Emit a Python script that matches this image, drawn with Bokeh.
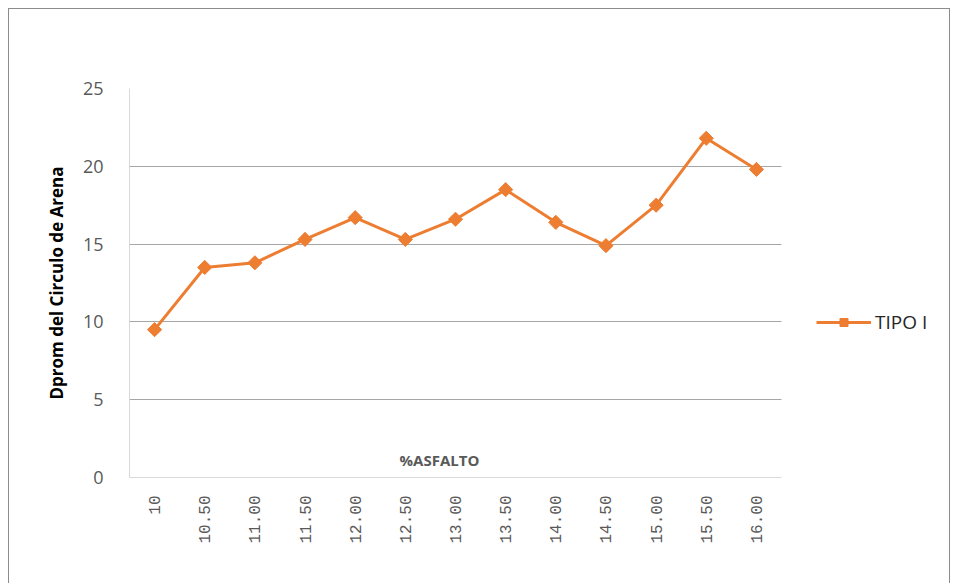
import math
from bokeh.plotting import figure
from bokeh.models import Legend, LegendItem, Label, Range1d, FixedTicker, BoxAnnotation
from bokeh.embed import file_html
from bokeh.resources import INLINE

categories = ["10", "10.50", "11.00", "11.50", "12.00", "12.50", "13.00",
              "13.50", "14.00", "14.50", "15.00", "15.50", "16.00"]
tipo_i = [9.5, 13.5, 13.8, 15.3, 16.7, 15.3, 16.6, 18.5, 16.4, 14.9, 17.5, 21.8, 19.8]
y_ticks = [0, 5, 10, 15, 20, 25]

ORANGE = "#ED7D31"
n = len(categories)
xs = list(range(n))
slot = 652 / n                      # pixel width of one category slot
x_end = -0.5 + (652 + 170) / slot   # frame extends under the legend area

p = figure(width=942, height=575, x_range=Range1d(-0.5, x_end),
           y_range=Range1d(0, 25), output_backend="svg", toolbar_location=None,
           min_border_left=120, min_border_right=0, min_border_top=79,
           min_border_bottom=107)
p.styles = {"border": "1px solid #8c8c8c", "border-bottom": "none",
            "margin-left": "8px", "margin-top": "8px"}
p.outline_line_color = None
p.background_fill_color = "white"

r = p.line(xs, tipo_i, line_color=ORANGE, line_width=3)
m = p.scatter(xs, tipo_i, marker="square", size=10, angle=math.pi / 4,
              fill_color=ORANGE, line_color=ORANGE)

p.yaxis.ticker = FixedTicker(ticks=y_ticks)
p.yaxis.axis_line_color = "#d9d9d9"
p.yaxis.major_tick_line_color = None
p.yaxis.minor_tick_line_color = None
p.yaxis.major_label_text_color = "#595959"
p.yaxis.major_label_text_font = "Open Sans"
p.yaxis.major_label_text_font_size = "18px"
p.yaxis.major_label_standoff = 20
p.yaxis.axis_label = "Dprom del Circulo de Arena"
p.yaxis.axis_label_text_font = "Open Sans"
p.yaxis.axis_label_text_font_style = "bold"
p.yaxis.axis_label_text_font_size = "17px"
p.yaxis.axis_label_text_color = "black"
p.yaxis.axis_label_standoff = 12

p.xaxis.ticker = FixedTicker(ticks=xs)
p.xaxis.major_label_overrides = {i: c for i, c in enumerate(categories)}
p.xaxis.bounds = (-0.5, n - 0.5)
p.xaxis.axis_line_color = "#d9d9d9"
p.xaxis.major_tick_line_color = None
p.xaxis.minor_tick_line_color = None
p.xaxis.major_label_orientation = math.pi / 2
p.xaxis.major_label_text_color = "#595959"
p.xaxis.major_label_text_font = "Liberation Mono"
p.xaxis.major_label_text_font_size = "16px"
p.xaxis.major_label_standoff = 12

p.xgrid.grid_line_color = None
p.ygrid.grid_line_color = "#a6a6a6"
p.ygrid.grid_line_width = 1

# blank out the legend area so grid lines stop at the plot area
p.add_layout(BoxAnnotation(left=n - 0.5, fill_color="white", fill_alpha=1,
                           line_color=None, level="underlay"))

p.add_layout(Label(x=310, y=8, x_units="screen", y_units="screen",
                   text="%ASFALTO", text_font="Open Sans", text_font_style="bold",
                   text_font_size="15px", text_color="#595959",
                   text_align="center"))

legend = Legend(items=[LegendItem(label="TIPO I", renderers=[r, m])],
                location=(687, 142), border_line_color=None,
                background_fill_alpha=0, label_text_font="Open Sans",
                label_text_font_size="19px", label_text_color="#262626",
                glyph_width=55, label_standoff=4)
p.add_layout(legend)

open("out.html", "w").write(file_html(p, INLINE))
